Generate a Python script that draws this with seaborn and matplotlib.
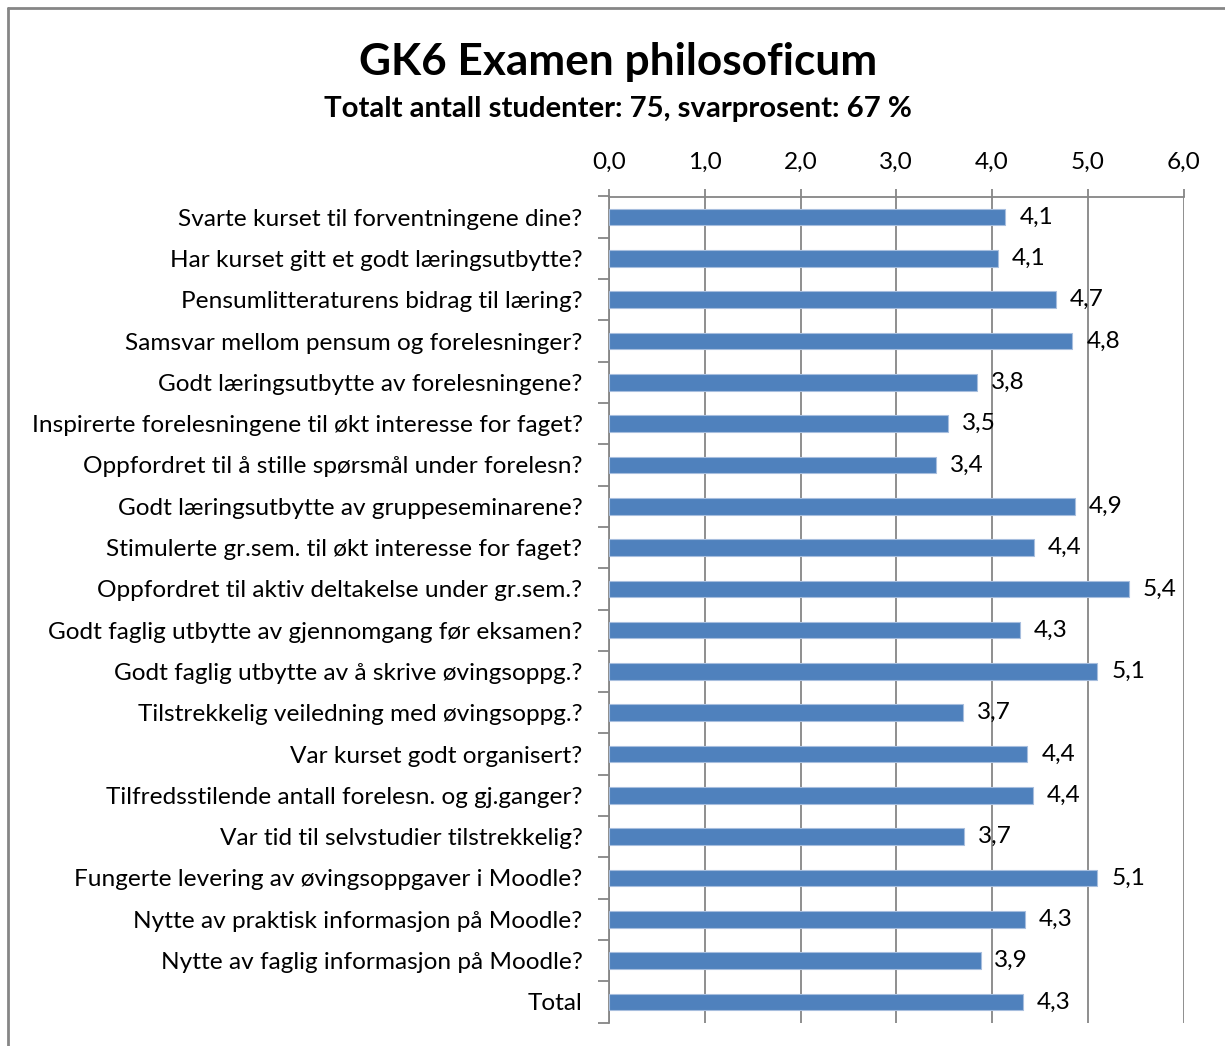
import matplotlib
matplotlib.use("Agg")
import matplotlib.pyplot as plt
import seaborn as sns
import pandas as pd
from matplotlib.ticker import FuncFormatter, FixedLocator
from matplotlib.lines import Line2D

questions = [
    "Svarte kurset til forventningene dine?",
    "Har kurset gitt et godt læringsutbytte?",
    "Pensumlitteraturens bidrag til læring?",
    "Samsvar mellom pensum og forelesninger?",
    "Godt læringsutbytte av forelesningene?",
    "Inspirerte forelesningene til økt interesse for faget?",
    "Oppfordret til å stille spørsmål under forelesn?",
    "Godt læringsutbytte av gruppeseminarene?",
    "Stimulerte gr.sem. til økt interesse for faget?",
    "Oppfordret til aktiv deltakelse under gr.sem.?",
    "Godt faglig utbytte av gjennomgang før eksamen?",
    "Godt faglig utbytte av å skrive øvingsoppg.?",
    "Tilstrekkelig veiledning med øvingsoppg.?",
    "Var kurset godt organisert?",
    "Tilfredsstilende antall forelesn. og gj.ganger?",
    "Var tid til selvstudier tilstrekkelig?",
    "Fungerte levering av øvingsoppgaver i Moodle?",
    "Nytte av praktisk informasjon på Moodle?",
    "Nytte av faglig informasjon på Moodle?",
    "Total",
]
scores = [4.14, 4.06, 4.67, 4.84, 3.84, 3.54, 3.42, 4.87, 4.44, 5.43,
          4.29, 5.10, 3.70, 4.37, 4.43, 3.71, 5.10, 4.34, 3.88, 4.32]
x_ticks = [0, 1, 2, 3, 4, 5, 6]

title = "GK6 Examen philosoficum"
subtitle = "Totalt antall studenter: 75, svarprosent: 67 %"

df = pd.DataFrame({"question": questions, "score": scores})

sns.set_style("white")
FONT = ["Lato", "DejaVu Sans"]
plt.rcParams["font.family"] = FONT
plt.rcParams["text.color"] = "black"
FS = 17.6

W, H = 1225, 1046
fig = plt.figure(figsize=(W / 100, H / 100), dpi=100)
ax = fig.add_axes([609 / W, 1 - 1022.5 / H, (1183.5 - 609) / W, (1022.5 - 196.5) / H])

sns.barplot(data=df, x="score", y="question", orient="h", color="#4F81BD",
            saturation=1, width=0.4, edgecolor="#A7BEDE", linewidth=0.8,
            ax=ax, zorder=3)

ax.set_xlim(0, 6)
ax.set_ylim(len(questions) - 0.5, -0.5)
ax.xaxis.set_major_locator(FixedLocator(x_ticks))
ax.xaxis.set_major_formatter(FuncFormatter(lambda v, p: f"{v:.1f}".replace(".", ",")))
ax.xaxis.tick_top()
ax.xaxis.set_label_position("top")
ax.set_xlabel("")
ax.set_ylabel("")

ax.grid(axis="x", color="#868686", linewidth=1.3, zorder=0)
ax.grid(axis="y", visible=False)
for s in ["bottom", "right"]:
    ax.spines[s].set_visible(False)
for s in ["top", "left"]:
    ax.spines[s].set_visible(True)
    ax.spines[s].set_color("#868686")
    ax.spines[s].set_linewidth(1.3)

ax.tick_params(axis="x", which="major", top=True, length=6, width=1.3,
               color="#868686", pad=11, labelsize=FS, labelcolor="black")
ax.tick_params(axis="y", which="major", left=False, length=0, pad=19,
               labelsize=FS, labelcolor="black")
ax.set_yticks([i - 0.5 for i in range(len(questions) + 1)], minor=True)
ax.tick_params(axis="y", which="minor", left=True, length=8, width=1.3,
               color="#868686")

labels = [f"{v:.1f}".replace(".", ",") for v in scores]
ax.bar_label(ax.containers[0], labels=labels, padding=10, fontsize=FS,
             color="black")

fig.text(618 / W, 1 - 62 / H, title, ha="center", va="center",
         fontsize=31.8, fontweight="bold", color="black")
fig.text(618 / W, 1 - 109 / H, subtitle, ha="center", va="center",
         fontsize=21.2, fontweight="bold", color="black")

# outer frame (left and top edges visible)
fig.add_artist(Line2D([7.5 / W, 7.5 / W], [0, 1 - 8 / H], transform=fig.transFigure,
                      color="#868686", linewidth=2))
fig.add_artist(Line2D([7.5 / W, 1], [1 - 8 / H, 1 - 8 / H], transform=fig.transFigure,
                      color="#868686", linewidth=2))

fig.savefig("out.png", dpi=100)
